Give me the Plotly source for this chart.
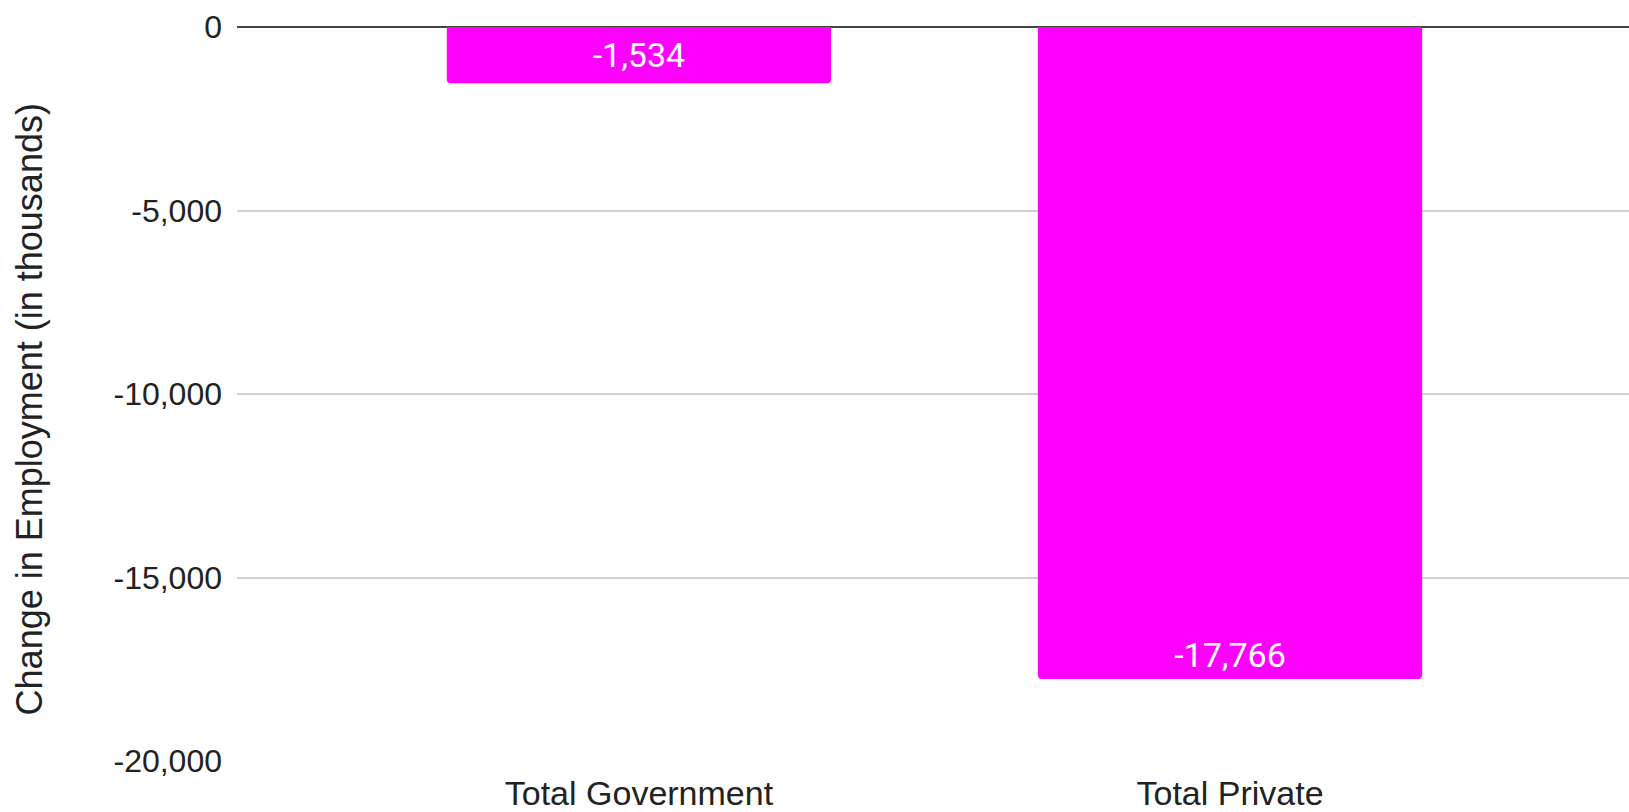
import plotly.graph_objects as go

categories = ["Total Government", "Total Private"]
values = [-1534, -17766]
labels = ["-1,534", "-17,766"]
y_ticks = [0, -5000, -10000, -15000, -20000]
y_tick_text = ["0", "-5,000", "-10,000", "-15,000", "-20,000"]
label_anchor = ["middle", "end"]
y_title = "Change in Employment (in thousands)"

fig = go.Figure()
for i in range(len(categories)):
    fig.add_trace(go.Bar(
        x=[categories[i]], y=[values[i]], text=[labels[i]], texttemplate="%{text}",
        textposition="inside", insidetextanchor=label_anchor[i],
        textfont=dict(family="Roboto", size=34, color="white"),
        marker=dict(color="#ff00ff", line=dict(width=0)),
        width=0.65,
    ))

fig.update_layout(
    width=1629, height=812,
    margin=dict(l=237, r=0, t=27, b=33),
    paper_bgcolor="white", plot_bgcolor="white",
    barmode="overlay",
    barcornerradius=4,
    showlegend=False,
    font=dict(family="Liberation Sans, Arial", color="#222222"),
)
fig.update_xaxes(
    range=[-0.68, 1.675], showgrid=False, zeroline=False, showline=False,
    tickfont=dict(size=34, color="#222222"), ticks="",
    ticklabelstandoff=9,
)
fig.update_yaxes(
    range=[-20000, 0], tickvals=y_ticks, ticktext=y_tick_text,
    showgrid=True, gridcolor="#d0d0d0", gridwidth=2,
    zeroline=True, zerolinecolor="#444444", zerolinewidth=2,
    showline=False, ticks="",
    tickfont=dict(size=32, color="#222222"),
    ticklabelstandoff=14,
)
fig.add_annotation(
    text=y_title, textangle=-90, showarrow=False,
    xref="paper", yref="paper", x=0, y=0.479,
    xanchor="center", yanchor="middle", xshift=-208,
    font=dict(size=36, color="#222222"),
)

fig.write_html("out.html", config={"displayModeBar": False},
               post_script="document.body.style.margin='0px';")
